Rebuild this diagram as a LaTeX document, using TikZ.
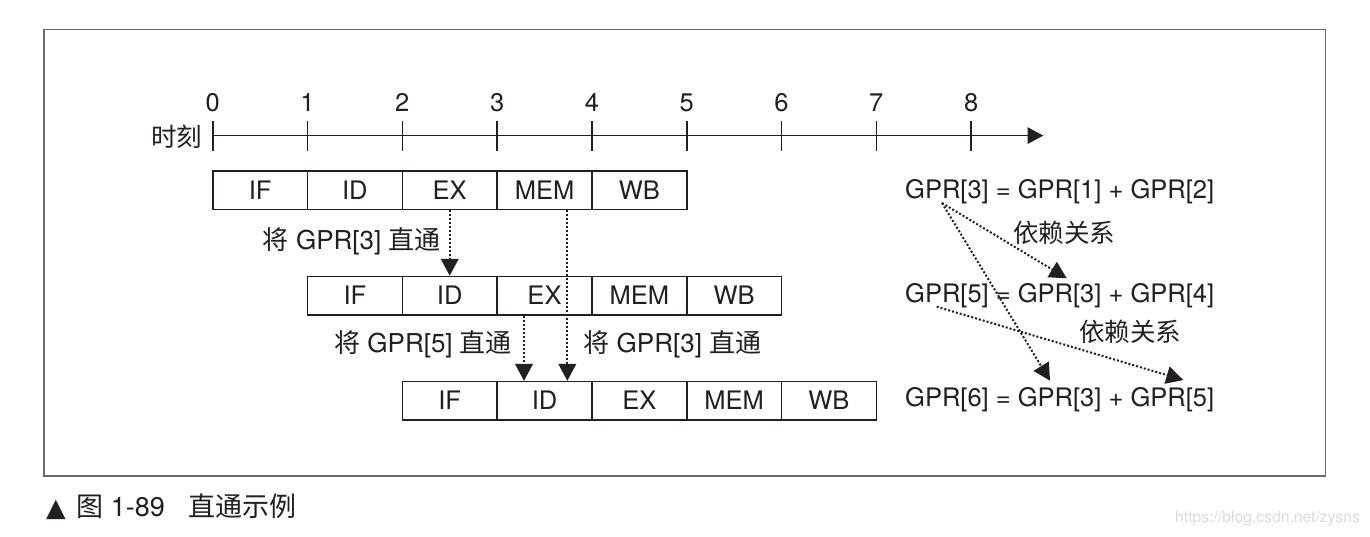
\documentclass[tikz,border=0pt]{standalone}
\usepackage{fontspec}
\setmainfont{TeX Gyre Heros}
\newfontfamily\cjk{Noto Sans CJK SC}
\newfontfamily\dejavu{DejaVu Sans}
\usetikzlibrary{arrows.meta}
\definecolor{ink}{HTML}{231F20}
\definecolor{framegray}{HTML}{6A6A6A}
\tikzset{
  txt/.style={text=ink, inner sep=0pt, font=\fontsize{25.5}{30}\selectfont},
  cell/.style={txt, draw=ink, line width=1.6pt, minimum width=94.8pt, minimum height=38.3pt,
               text height=18pt, text depth=0pt},
  axisline/.style={draw=ink, line width=1.6pt},
  fwd/.style={draw=ink, line width=2pt, dash pattern=on 2pt off 2pt,
              -{Triangle[length=17pt,width=17.6pt]}},
}
\begin{document}
\begin{tikzpicture}[x=1pt,y=-1pt]
\useasboundingbox (0,0) rectangle (1370,536);
\fill[white] (0,0) rectangle (1370,536);
% frame
\draw[framegray, line width=1.3pt] (44,29.5) rectangle (1325.5,476);
% time axis
\node[txt, font=\cjk\fontsize{25.5}{30}\selectfont] (shike) at (176.7,136.3) {时刻};
\coordinate (ax0) at (212.7,135.6);
\coordinate (axend) at (1043.3,135.6);
\draw[axisline, -{Triangle[length=15.6pt,width=16.3pt]}] (ax0) -- (axend);
\foreach \k in {0,...,8} {
  \draw[axisline] ({212.7+94.8*\k},120.7) -- ++(0,29.8);
  \node[txt, anchor=base] (n\k) at ({212.7+94.8*\k},111.7) {\k};
}
% pipeline rows
\foreach \t [count=\i] in {IF,ID,EX,MEM,WB} {
  \node[cell] (a\i) at ({212.7+94.8*(\i-0.5)},190.2) {\t};
  \node[cell] (b\i) at ({307.5+94.8*(\i-0.5)},295.7) {\t};
  \node[cell] (c\i) at ({402.3+94.8*(\i-0.5)},400.8) {\t};
}
% forwarding arrows
\draw[fwd] (a3.south) -- (b2.north);
\draw[fwd] ([xshift=-20.5pt]b3.south) -- ([xshift=-20.5pt]c2.north);
\draw[fwd] ([xshift=22.8pt]a4.south) -- ([xshift=22.8pt]c2.north);
% forwarding labels
\node[txt, anchor=base west, font=\fontsize{26}{30}\selectfont] (l1) at (262.7,249.5) {{\cjk 将} GPR[3] {\cjk 直通}};
\node[txt, anchor=base west, font=\fontsize{26}{30}\selectfont] (l2) at (334,352.5) {{\cjk 将} GPR[5] {\cjk 直通}};
\node[txt, anchor=base west, font=\fontsize{26}{30}\selectfont] (l3) at (583.3,352.5) {{\cjk 将} GPR[3] {\cjk 直通}};
% equations
\node[txt, anchor=base west] (e1) at (905,198.3) {GPR[3] = GPR[1] + GPR[2]};
\node[txt, anchor=base west] (e2) at (905,302.7) {GPR[5] = GPR[3] + GPR[4]};
\node[txt, anchor=base west] (e3) at (905,406.7) {GPR[6] = GPR[3] + GPR[5]};
% dependency arrows
\coordinate (s3) at (942,203);
\coordinate (s5) at (936.7,306.7);
\coordinate (t53) at (1066.7,278.3);
\coordinate (t63) at (1050,380.7);
\coordinate (t65) at (1183.3,380);
\draw[fwd] (s3) -- (t53);
\draw[fwd] (s3) -- (t63);
\draw[fwd] (s5) -- (t65);
\node[txt, font=\cjk\fontsize{25.5}{30}\selectfont] (d1) at (1064,232.5) {依赖关系};
\node[txt, font=\cjk\fontsize{25.5}{30}\selectfont] (d2) at (1130.3,331.7) {依赖关系};
% caption
\node[txt, anchor=base west, font=\fontsize{27}{30}\selectfont] (cap) at (46,516.7)
  {{\dejavu\fontsize{25.5}{30}\selectfont ▲}\hspace{11pt}{\cjk 图}\hspace{7pt}1-89\hspace{24pt}{\cjk 直通示例}};
% watermark
\node[anchor=base west, inner sep=0pt, text=black!14, font=\fontsize{15.7}{18}\selectfont] (wm) at (1175,522) {https://blog.csdn.net/zysns};
\end{tikzpicture}
\end{document}
